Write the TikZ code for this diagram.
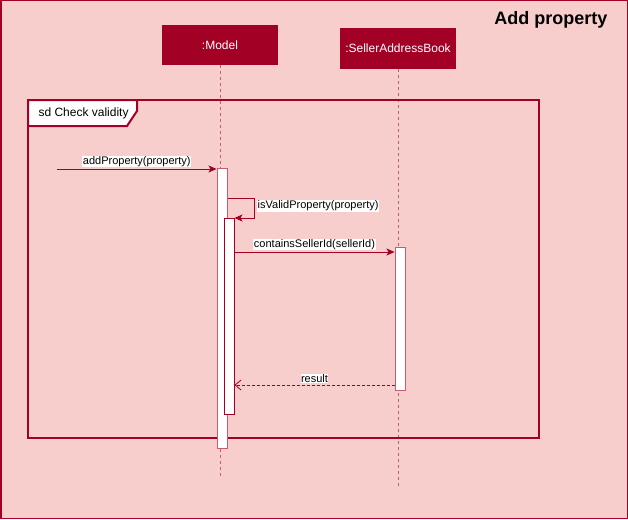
\documentclass[tikz,border=0pt]{standalone}
\usepackage{fontspec}
\setmainfont{Liberation Sans}
\usetikzlibrary{arrows.meta}
\definecolor{bgpink}{HTML}{F8CECC}
\definecolor{darkred}{HTML}{A20025}
\colorlet{lifered}{darkred!55!bgpink}

\begin{document}
\begin{tikzpicture}[x=1pt, y=-1pt,
    head/.style={fill=darkred, text=white, font=\fontsize{12}{14}\selectfont,
        minimum width=116pt, inner sep=0pt},
    lifeline/.style={lifered, line width=1pt, dash pattern=on 3pt off 3pt},
    act/.style={draw=lifered, fill=white, line width=1pt, minimum width=10pt,
        inner sep=0pt, anchor=north},
    msg/.style={darkred, line width=0.8pt, -{Stealth[length=8pt, width=7pt, inset=2pt]}},
    reply/.style={darkred, line width=0.8pt, dash pattern=on 3pt off 2pt,
        -{Straight Barb[length=6pt, width=10pt]}},
    lbl/.style={fill=white, text=black, inner sep=0.5pt, font=\fontsize{11}{13}\selectfont}]
            % page
            \draw[darkred, line width=1.5pt, fill=bgpink] (0.75,0.75) rectangle (627.25,518.25);
            \node[anchor=east, font=\fontsize{18}{20}\bfseries] (title) at (611,20) {Add property};

            % lifelines
            \node[head, minimum height=40pt] (model) at (220,45) {:Model};
            \node[head, minimum height=41pt] (seller) at (398,48.5) {:SellerAddressBook};
            \coordinate (modelEnd) at (220,476);
            \coordinate (sellerEnd) at (398,486);
            \draw[lifeline] (model.south) -- (modelEnd);
            \draw[lifeline] (seller.south) -- (sellerEnd);

            % frame
            \draw[darkred, line width=2.5pt] (28,100) rectangle (539,438);
            \draw[darkred, line width=2pt, fill=white]
                (28,100) -- (137,100) -- (137,111) -- (127,126) -- (28,126) -- cycle;
            \node[anchor=west, font=\fontsize{12}{14}\selectfont] (frameLbl) at (35,113) {sd Check validity};

            % activations
            \node[act, minimum height=280pt] (actModel) at (222,168) {};
            \node[act, draw=darkred, minimum height=196pt] (actValid) at (229,218) {};
            \node[act, minimum height=143pt] (actSeller) at (400,247) {};

            % messages
            \coordinate (caller) at (57,169);
            \draw[msg] (caller) -- (caller -| actModel.west)
                node[midway, above=1.5pt, lbl] {addProperty(property)};

            \coordinate (selfOut) at (actModel.east |- 0,198);
            \coordinate (selfTurn) at (254,198);
            \draw[msg] (selfOut) -- (selfTurn) -- (selfTurn |- actValid.north) -- (actValid.north east);
            \node[lbl, anchor=west] (validLbl) at (257,206) {isValidProperty(property)};

            \coordinate (callSeller) at (actValid.east |- 0,252);
            \draw[msg] (callSeller) -- (callSeller -| actSeller.west)
                node[midway, above=1.5pt, lbl] {containsSellerId(sellerId)};

            \coordinate (back) at (actSeller.west |- 0,385);
            \draw[reply] (back) -- (back -| actValid.east)
                node[midway, above=1.5pt, lbl] {result};
\end{tikzpicture}
\end{document}
